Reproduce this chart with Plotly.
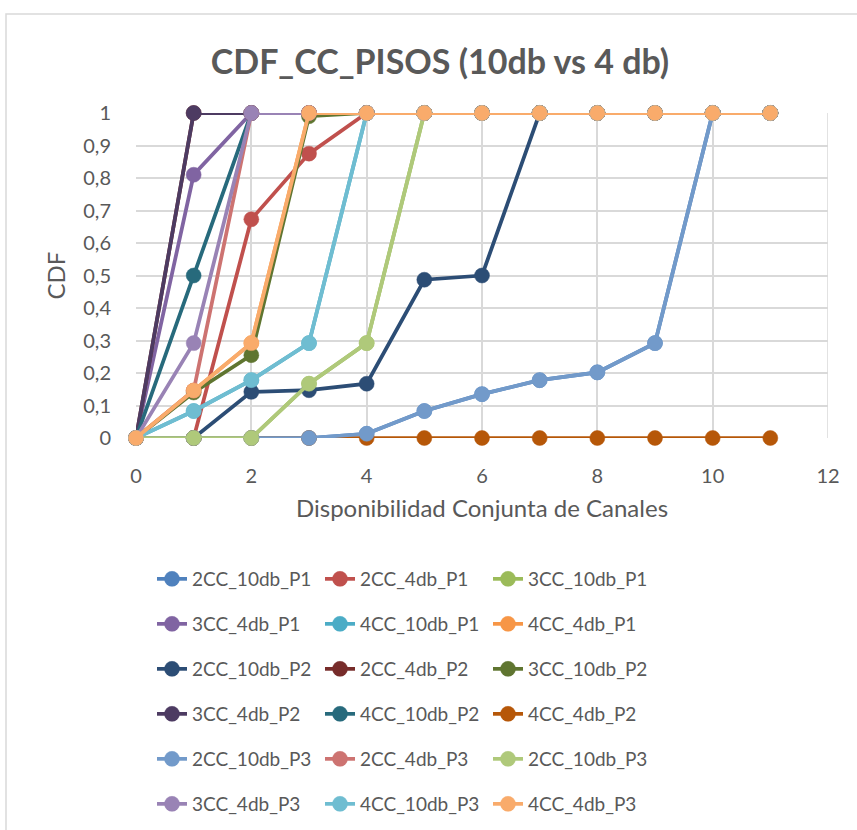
import plotly.graph_objects as go

# Joint channel availability (x) and cumulative probability per series
channels = [0, 1, 2, 3, 4, 5, 6, 7, 8, 9, 10, 11]

cc2_10db_p1 = [0, 0, 0, 0, 0.013, 0.083, 0.135, 0.178, 0.202, 0.292, 1, 1]
cc2_4db_p1 = [0, 0, 0.673, 0.875, 1, 1, 1, 1, 1, 1, 1, 1]
cc3_10db_p1 = [0, 0, 0, 0.167, 0.292, 1, 1, 1, 1, 1, 1, 1]
cc3_4db_p1 = [0, 0.81, 1, 1, 1, 1, 1, 1, 1, 1, 1, 1]
cc4_10db_p1 = [0, 0.083, 0.178, 0.292, 1, 1, 1, 1, 1, 1, 1, 1]
cc4_4db_p1 = [0, 0.146, 0.292, 1, 1, 1, 1, 1, 1, 1, 1, 1]

cc2_10db_p2 = [0, 0, 0.142, 0.147, 0.167, 0.487, 0.5, 1, 1, 1, 1, 1]
cc2_4db_p2 = [0, 1, 1, 1, 1, 1, 1, 1, 1, 1, 1, 1]
cc3_10db_p2 = [0, 0.14, 0.255, 0.99, 1, 1, 1, 1, 1, 1, 1, 1]
cc3_4db_p2 = [0, 1, 1, 1, 1, 1, 1, 1, 1, 1, 1, 1]
cc4_10db_p2 = [0, 0.5, 1, 1, 1, 1, 1, 1, 1, 1, 1, 1]
cc4_4db_p2 = [0, 0, 0, 0, 0, 0, 0, 0, 0, 0, 0, 0]

cc2_10db_p3 = [0, 0, 0, 0, 0.013, 0.083, 0.135, 0.178, 0.202, 0.292, 1, 1]
cc2_4db_p3 = [0, 0.146, 1, 1, 1, 1, 1, 1, 1, 1, 1, 1]
cc3_10db_p3 = [0, 0, 0, 0.167, 0.292, 1, 1, 1, 1, 1, 1, 1]
cc3_4db_p3 = [0, 0.292, 1, 1, 1, 1, 1, 1, 1, 1, 1, 1]
cc4_10db_p3 = [0, 0.083, 0.178, 0.292, 1, 1, 1, 1, 1, 1, 1, 1]
cc4_4db_p3 = [0, 0.146, 0.292, 1, 1, 1, 1, 1, 1, 1, 1, 1]

series_names = [
    "2CC_10db_P1", "2CC_4db_P1", "3CC_10db_P1",
    "3CC_4db_P1", "4CC_10db_P1", "4CC_4db_P1",
    "2CC_10db_P2", "2CC_4db_P2", "3CC_10db_P2",
    "3CC_4db_P2", "4CC_10db_P2", "4CC_4db_P2",
    "2CC_10db_P3", "2CC_4db_P3", "2CC_10db_P3",
    "3CC_4db_P3", "4CC_10db_P3", "4CC_4db_P3",
]
series_values = [
    cc2_10db_p1, cc2_4db_p1, cc3_10db_p1,
    cc3_4db_p1, cc4_10db_p1, cc4_4db_p1,
    cc2_10db_p2, cc2_4db_p2, cc3_10db_p2,
    cc3_4db_p2, cc4_10db_p2, cc4_4db_p2,
    cc2_10db_p3, cc2_4db_p3, cc3_10db_p3,
    cc3_4db_p3, cc4_10db_p3, cc4_4db_p3,
]
series_colors = [
    "#4F81BD", "#C0504D", "#9BBB59",
    "#8064A2", "#4BACC6", "#F79646",
    "#2C4D75", "#772C2A", "#5F7530",
    "#4D3B62", "#276A7C", "#B65708",
    "#729ACA", "#CD7371", "#AFC97A",
    "#9983B5", "#6FBDD1", "#F9AB6B",
]

FONT = "Lato"
TEXT = "#595959"
GRID = "#D9D9D9"

W, H = 857, 830
ML, MR, MT, MB = 136, 29, 113, 392
PW, PH = W - ML - MR, H - MT - MB

fig = go.Figure()

legend_ids = ["legend", "legend2", "legend3", "legend4", "legend5", "legend6"]

for i, (name, vals, col) in enumerate(zip(series_names, series_values, series_colors)):
    fig.add_trace(go.Scatter(
        x=channels, y=vals, name=name,
        mode="lines+markers",
        line=dict(color=col, width=3.75),
        marker=dict(color=col, size=15, line=dict(color=col, width=0.5)),
        cliponaxis=False,
        legend=legend_ids[i // 3],
    ))

# six legend rows, three entries each (168 px per column incl. symbol)
row_px = [579, 624, 669, 714, 759, 804]
legend_layout = {}
for lid, py in zip(legend_ids, row_px):
    legend_layout[lid] = dict(
        orientation="h",
        x=(152 - ML) / PW, xanchor="left",
        y=(MT + PH - py) / PH, yanchor="middle",
        entrywidth=123, entrywidthmode="pixels",
        font=dict(family=FONT, size=19, color=TEXT),
        bgcolor="rgba(0,0,0,0)",
        itemclick=False,
    )

fig.update_layout(
    width=W, height=H,
    margin=dict(l=ML, r=MR, t=MT, b=MB, autoexpand=False),
    paper_bgcolor="white", plot_bgcolor="white",
    separators=", ",
    title=dict(
        text="<b>CDF_CC_PISOS (10db vs 4 db)</b>",
        x=440 / W, xanchor="center", xref="container",
        y=1 - 62 / H, yanchor="middle", yref="container",
        font=dict(family=FONT, size=34, color=TEXT),
    ),
    **legend_layout,
)

fig.update_xaxes(
    range=[0, 12], dtick=2, tick0=0,
    showgrid=True, gridcolor=GRID, gridwidth=1.5,
    zeroline=False, showline=False,
    ticks="outside", ticklen=20, tickcolor="rgba(0,0,0,0)",
    tickfont=dict(family=FONT, size=20, color=TEXT),
    title=dict(text="Disponibilidad Conjunta de Canales", standoff=14,
               font=dict(family=FONT, size=24, color=TEXT)),
)
fig.update_yaxes(
    range=[0, 1], dtick=0.1, tick0=0,
    showgrid=True, gridcolor=GRID, gridwidth=1.5,
    zeroline=False, showline=False,
    ticks="outside", ticklen=20, tickcolor="rgba(0,0,0,0)",
    tickfont=dict(family=FONT, size=20, color=TEXT),
    title=dict(text="CDF", standoff=10,
               font=dict(family=FONT, size=24, color=TEXT)),
)

# vertical gridline at the right edge of the plot area
fig.add_shape(type="line", xref="x", yref="y", x0=12, x1=12, y0=0, y1=1,
              line=dict(color=GRID, width=1.5), layer="below")

# outer chart frame
fig.add_shape(
    type="rect", xref="paper", yref="paper",
    x0=(6 - ML) / PW, x1=(W + 20 - ML) / PW,
    y0=(MT + PH - (H + 20)) / PH, y1=(MT + PH - 14) / PH,
    line=dict(color=GRID, width=1.5), fillcolor="rgba(0,0,0,0)", layer="below",
)

fig.write_html("out.html")
